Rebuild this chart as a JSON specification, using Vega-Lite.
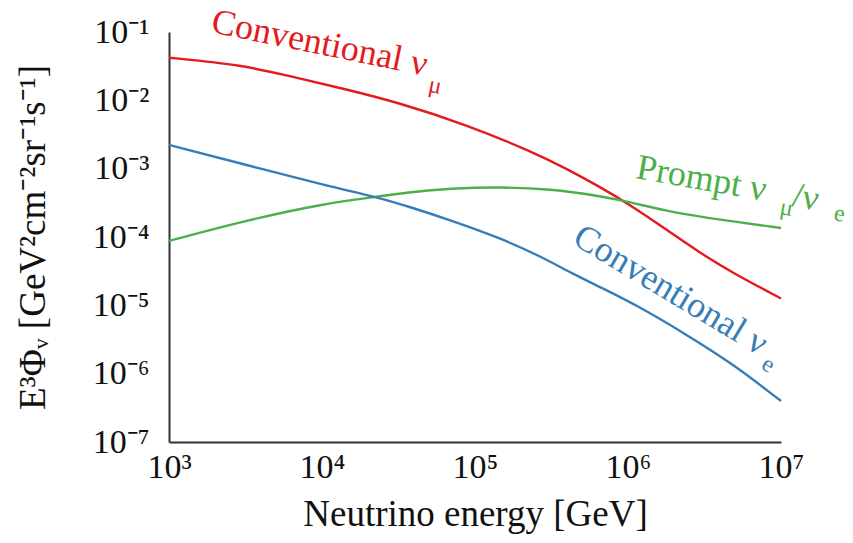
{
  "$schema": "https://vega.github.io/schema/vega-lite/v6.json",
  "width": 612,
  "height": 410,
  "autosize": {"type": "none"},
  "padding": {"left": 169, "top": 32, "right": 72, "bottom": 101},
  "background": "white",
  "config": {
    "view": {"stroke": null},
    "font": "Liberation Serif",
    "axis": {
      "domainColor": "#333333",
      "domainWidth": 2,
      "ticks": false,
      "grid": false,
      "labelFont": "Liberation Serif",
      "labelFontSize": 34,
      "labelColor": "#111111",
      "titleFont": "Liberation Serif",
      "titleFontSize": 37,
      "titleFontWeight": "normal",
      "titleColor": "#111111"
    }
  },
  "datasets": {
    "curves": [
      {"series": "red", "energy": 1000, "flux": 0.04207},
      {"series": "red", "energy": 3048, "flux": 0.03289},
      {"series": "red", "energy": 6457, "flux": 0.02198},
      {"series": "red", "energy": 13710, "flux": 0.01489},
      {"series": "red", "energy": 32360, "flux": 0.009141},
      {"series": "red", "energy": 88720, "flux": 0.004355},
      {"series": "red", "energy": 239300, "flux": 0.001754},
      {"series": "red", "energy": 399000, "flux": 0.000989},
      {"series": "red", "energy": 656100, "flux": 0.0005395},
      {"series": "red", "energy": 984000, "flux": 0.0003148},
      {"series": "red", "energy": 1799000, "flux": 0.0001268},
      {"series": "red", "energy": 2958000, "flux": 0.00005834},
      {"series": "red", "energy": 4853000, "flux": 0.00002972},
      {"series": "red", "energy": 10000000, "flux": 0.00001259},
      {"series": "green", "energy": 1000, "flux": 0.0000875},
      {"series": "green", "energy": 3048, "flux": 0.0001714},
      {"series": "green", "energy": 10790, "flux": 0.0003148},
      {"series": "green", "energy": 22860, "flux": 0.0003855},
      {"series": "green", "energy": 37580, "flux": 0.000456},
      {"series": "green", "energy": 68710, "flux": 0.0005129},
      {"series": "green", "energy": 145600, "flux": 0.0005395},
      {"series": "green", "energy": 309000, "flux": 0.0005047},
      {"series": "green", "energy": 656100, "flux": 0.0003981},
      {"series": "green", "energy": 984000, "flux": 0.0003311},
      {"series": "green", "energy": 1799000, "flux": 0.0002404},
      {"series": "green", "energy": 2958000, "flux": 0.0001963},
      {"series": "green", "energy": 10000000, "flux": 0.0001355},
      {"series": "blue", "energy": 1000, "flux": 0.002223},
      {"series": "blue", "energy": 3048, "flux": 0.001169},
      {"series": "blue", "energy": 10790, "flux": 0.0005585},
      {"series": "blue", "energy": 22860, "flux": 0.0003855},
      {"series": "blue", "energy": 37580, "flux": 0.0002748},
      {"series": "blue", "energy": 68710, "flux": 0.0001774},
      {"series": "blue", "energy": 145600, "flux": 0.00009683},
      {"series": "blue", "energy": 266100, "flux": 0.00005272},
      {"series": "blue", "energy": 437500, "flux": 0.00002877},
      {"series": "blue", "energy": 656100, "flux": 0.00001854},
      {"series": "blue", "energy": 1197000, "flux": 0.000009462},
      {"series": "blue", "energy": 2432000, "flux": 0.00000368},
      {"series": "blue", "energy": 4853000, "flux": 0.000001387},
      {"series": "blue", "energy": 10000000, "flux": 0.0000003981}
    ],
    "labels": [
      {"series": "red", "part": "main", "label": "Conventional ν", "energy": 1854, "flux": 0.1},
      {"series": "red", "part": "sub", "label": "μ", "energy": 49000, "flux": 0.0135},
      {"series": "green", "part": "main", "label": "Prompt ν", "energy": 1111000, "flux": 0.000731},
      {"series": "green", "part": "sub", "label": "μ", "energy": 9700000, "flux": 0.0002173},
      {"series": "green", "part": "main", "label": "/ν", "energy": 11620000, "flux": 0.0002844},
      {"series": "green", "part": "sub", "label": "e", "energy": 21880000, "flux": 0.0001774},
      {"series": "blue", "part": "main", "label": "Conventional ν", "energy": 423900, "flux": 0.0000817},
      {"series": "blue", "part": "sub", "label": "e", "energy": 7290000, "flux": 0.000001211}
    ]
  },
  "layer": [
    {
      "data": {"name": "curves"},
      "mark": {"type": "line", "interpolate": "basis", "strokeWidth": 2.4},
      "encoding": {
        "x": {
          "field": "energy", "type": "quantitative",
          "scale": {"type": "log", "domain": [1000, 10000000]},
          "axis": {
            "values": [1000, 10000, 100000, 1000000, 10000000],
            "labelExpr": "round(log(datum.value)/LN10) == 3 ? '10³' : round(log(datum.value)/LN10) == 4 ? '10⁴' : round(log(datum.value)/LN10) == 5 ? '10⁵' : round(log(datum.value)/LN10) == 6 ? '10⁶' : '10⁷'",
            "labelPadding": 8,
            "labelFlush": false,
            "title": "Neutrino energy [GeV]",
            "titlePadding": 12
          }
        },
        "y": {
          "field": "flux", "type": "quantitative",
          "scale": {"type": "log", "domain": [0.0000001, 0.1]},
          "axis": {
            "values": [0.0000001, 0.000001, 0.00001, 0.0001, 0.001, 0.01, 0.1],
            "labelExpr": "round(log(datum.value)/LN10) == -1 ? '10⁻¹' : round(log(datum.value)/LN10) == -2 ? '10⁻²' : round(log(datum.value)/LN10) == -3 ? '10⁻³' : round(log(datum.value)/LN10) == -4 ? '10⁻⁴' : round(log(datum.value)/LN10) == -5 ? '10⁻⁵' : round(log(datum.value)/LN10) == -6 ? '10⁻⁶' : '10⁻⁷'",
            "labelPadding": 20,
            "labelFlush": false,
            "title": "E³Φᵥ  [GeV²cm⁻²sr⁻¹s⁻¹]",
            "titlePadding": 40
          }
        },
        "color": {
          "field": "series", "type": "nominal",
          "scale": {"domain": ["red", "green", "blue"], "range": ["#e41a1c", "#4daf4a", "#377eb8"]},
          "legend": null
        }
      }
    },
    {
      "data": {"name": "labels"},
      "transform": [{"filter": "datum.series == 'red' && datum.part == 'main'"}],
      "mark": {"type": "text", "angle": 11.5, "fontSize": 36, "align": "left", "baseline": "alphabetic", "color": "#e41a1c"},
      "encoding": {
        "x": {"field": "energy", "type": "quantitative", "scale": {"type": "log", "domain": [1000, 10000000]}},
        "y": {"field": "flux", "type": "quantitative", "scale": {"type": "log", "domain": [0.0000001, 0.1]}},
        "text": {"field": "label"}
      }
    },
    {
      "data": {"name": "labels"},
      "transform": [{"filter": "datum.series == 'red' && datum.part == 'sub'"}],
      "mark": {"type": "text", "angle": 11.5, "fontSize": 24, "align": "left", "baseline": "alphabetic", "color": "#e41a1c"},
      "encoding": {
        "x": {"field": "energy", "type": "quantitative", "scale": {"type": "log", "domain": [1000, 10000000]}},
        "y": {"field": "flux", "type": "quantitative", "scale": {"type": "log", "domain": [0.0000001, 0.1]}},
        "text": {"field": "label"}
      }
    },
    {
      "data": {"name": "labels"},
      "transform": [{"filter": "datum.series == 'green' && datum.part == 'main'"}],
      "mark": {"type": "text", "angle": 10, "fontSize": 36, "align": "left", "baseline": "alphabetic", "color": "#4daf4a"},
      "encoding": {
        "x": {"field": "energy", "type": "quantitative", "scale": {"type": "log", "domain": [1000, 10000000]}},
        "y": {"field": "flux", "type": "quantitative", "scale": {"type": "log", "domain": [0.0000001, 0.1]}},
        "text": {"field": "label"}
      }
    },
    {
      "data": {"name": "labels"},
      "transform": [{"filter": "datum.series == 'green' && datum.part == 'sub'"}],
      "mark": {"type": "text", "angle": 10, "fontSize": 24, "align": "left", "baseline": "alphabetic", "color": "#4daf4a"},
      "encoding": {
        "x": {"field": "energy", "type": "quantitative", "scale": {"type": "log", "domain": [1000, 10000000]}},
        "y": {"field": "flux", "type": "quantitative", "scale": {"type": "log", "domain": [0.0000001, 0.1]}},
        "text": {"field": "label"}
      }
    },
    {
      "data": {"name": "labels"},
      "transform": [{"filter": "datum.series == 'blue' && datum.part == 'main'"}],
      "mark": {"type": "text", "angle": 31, "fontSize": 36, "align": "left", "baseline": "alphabetic", "color": "#377eb8"},
      "encoding": {
        "x": {"field": "energy", "type": "quantitative", "scale": {"type": "log", "domain": [1000, 10000000]}},
        "y": {"field": "flux", "type": "quantitative", "scale": {"type": "log", "domain": [0.0000001, 0.1]}},
        "text": {"field": "label"}
      }
    },
    {
      "data": {"name": "labels"},
      "transform": [{"filter": "datum.series == 'blue' && datum.part == 'sub'"}],
      "mark": {"type": "text", "angle": 31, "fontSize": 24, "align": "left", "baseline": "alphabetic", "color": "#377eb8"},
      "encoding": {
        "x": {"field": "energy", "type": "quantitative", "scale": {"type": "log", "domain": [1000, 10000000]}},
        "y": {"field": "flux", "type": "quantitative", "scale": {"type": "log", "domain": [0.0000001, 0.1]}},
        "text": {"field": "label"}
      }
    }
  ]
}
